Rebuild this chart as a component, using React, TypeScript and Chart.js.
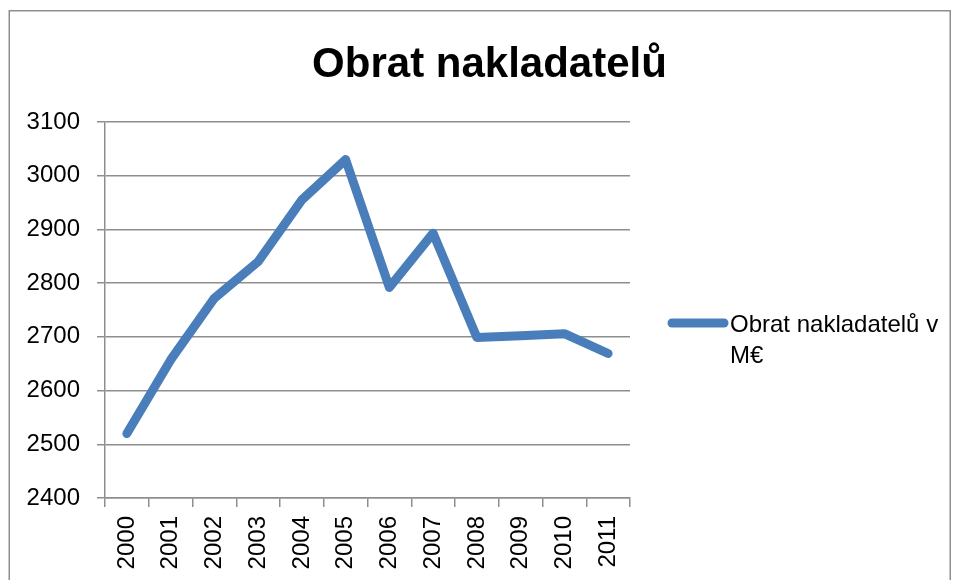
import React, { useEffect, useRef } from 'react';
import { Chart, registerables } from 'chart.js';

Chart.register(...registerables);

const TITLE = 'Obrat nakladatelů';
const SERIES_LABEL = 'Obrat nakladatelů v M€';
const LEGEND_LINES = ['Obrat nakladatelů v', 'M€'];
const YEARS = ['2000', '2001', '2002', '2003', '2004', '2005', '2006', '2007', '2008', '2009', '2010', '2011'];
const VALUES = [2520, 2657, 2772, 2840, 2955, 3030, 2792, 2893, 2699, 2702, 2706, 2669];
const Y_MIN = 2400;
const Y_MAX = 3100;
const Y_STEP = 100;

const FONT_FAMILY = '"Liberation Sans", Arial, sans-serif';
const LINE_COLOR = '#4A7EBB';
const GRID_COLOR = '#8E8E8E';
const TEXT_COLOR = '#000000';

const decorPlugin = {
  id: 'decor',
  beforeDraw(chart: any) {
    const ctx = chart.ctx;
    ctx.save();
    ctx.fillStyle = '#ffffff';
    ctx.fillRect(0, 0, chart.width, chart.height);
    ctx.strokeStyle = GRID_COLOR;
    ctx.lineWidth = 1.5;
    ctx.strokeRect(9.25, 10.75, 941, 620);
    ctx.restore();
  },
  afterDraw(chart: any) {
    const ctx = chart.ctx;
    ctx.save();
    // title
    ctx.fillStyle = TEXT_COLOR;
    ctx.font = `bold 42px ${FONT_FAMILY}`;
    ctx.textAlign = 'center';
    ctx.textBaseline = 'alphabetic';
    ctx.fillText(TITLE, 489.5, 77);
    // legend
    const ds = chart.data.datasets[0];
    ctx.strokeStyle = ds.borderColor;
    ctx.lineWidth = 9;
    ctx.lineCap = 'round';
    ctx.beginPath();
    ctx.moveTo(672, 323);
    ctx.lineTo(724, 323);
    ctx.stroke();
    ctx.font = `24px ${FONT_FAMILY}`;
    ctx.textAlign = 'left';
    ctx.fillStyle = TEXT_COLOR;
    LEGEND_LINES.forEach((t, i) => ctx.fillText(t, 730, 332 + i * 31));
    ctx.restore();
  },
};

export default function App() {
  const ref = useRef<HTMLCanvasElement | null>(null);

  useEffect(() => {
    if (!ref.current) return;
    const chart = new Chart(ref.current, {
      type: 'line',
      data: {
        labels: YEARS,
        datasets: [
          {
            label: SERIES_LABEL,
            data: VALUES,
            borderColor: LINE_COLOR,
            backgroundColor: LINE_COLOR,
            borderWidth: 9,
            pointRadius: 0,
            pointHoverRadius: 0,
            tension: 0,
            borderCapStyle: 'round',
            borderJoinStyle: 'round',
            fill: false,
          },
        ],
      },
      options: {
        responsive: false,
        animation: false,
        devicePixelRatio: 1,
        layout: { padding: { top: 122, right: 329, bottom: 0, left: 0 } },
        plugins: {
          legend: { display: false },
          title: { display: false },
          tooltip: { enabled: false },
        },
        scales: {
          x: {
            type: 'category',
            offset: true,
            grid: {
              display: true,
              drawOnChartArea: false,
              drawTicks: true,
              tickLength: 9,
              color: GRID_COLOR,
              lineWidth: 1.5,
              offset: true,
            },
            border: { color: GRID_COLOR, width: 1.5 },
            ticks: {
              minRotation: 90,
              maxRotation: 90,
              autoSkip: false,
              padding: 9,
              color: TEXT_COLOR,
              font: { family: FONT_FAMILY, size: 24 },
            },
            afterFit: (s: any) => {
              s.height = 82;
            },
          },
          y: {
            min: Y_MIN,
            max: Y_MAX,
            grid: {
              color: GRID_COLOR,
              lineWidth: 1.5,
              tickLength: 8,
              drawTicks: true,
            },
            border: { color: GRID_COLOR, width: 1.5 },
            ticks: {
              stepSize: Y_STEP,
              padding: 17,
              color: TEXT_COLOR,
              font: { family: FONT_FAMILY, size: 24 },
              callback: (v: any) => String(v),
            },
            afterFit: (s: any) => {
              s.width = 105;
            },
          },
        },
      },
      plugins: [decorPlugin],
    });
    return () => chart.destroy();
  }, []);

  return (
    <div style={{ position: 'fixed', left: 0, top: 0, width: 959, height: 580, overflow: 'hidden', background: '#fff' }}>
      <canvas ref={ref} width={959} height={580} style={{ display: 'block', width: 959, height: 580 }} />
    </div>
  );
}
